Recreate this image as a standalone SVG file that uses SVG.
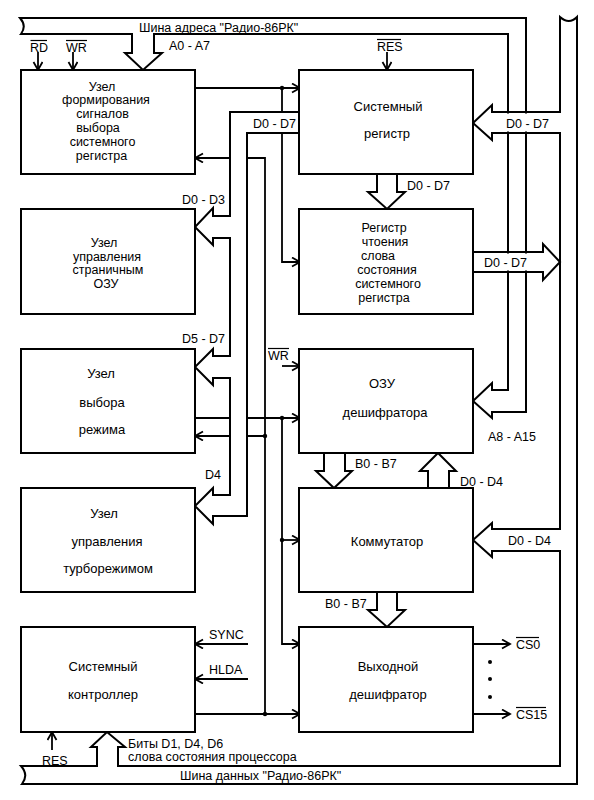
<svg xmlns="http://www.w3.org/2000/svg" width="594" height="800" viewBox="0 0 594 800">
<style>
.blk{fill:#fff;stroke:#000;stroke-width:2}
.w{fill:none;stroke:#000;stroke-width:1.8}
.a{fill:none;stroke:#000;stroke-width:1.8;marker-end:url(#ah)}
.bus{fill:none;stroke:#000;stroke-width:2;stroke-linejoin:miter}
.busw{fill:#fff;stroke:#000;stroke-width:2;stroke-linejoin:miter}
.ov{stroke:#000;stroke-width:1.2}
text{font-family:"Liberation Sans",Arial,sans-serif;fill:#000}
.t{font-size:13px;text-anchor:middle}
.ts{font-size:12.5px;text-anchor:middle}
.l{font-size:12.5px}
</style>
<defs>
<marker id="ah" markerUnits="userSpaceOnUse" markerWidth="12" markerHeight="12" refX="9" refY="5" orient="auto">
<path d="M1,0.5 L9,5 L1,9.5" fill="none" stroke="#000" stroke-width="1.8"/>
</marker>
</defs>
<rect width="594" height="800" fill="#fff"/>

<g id="connectors">
<!-- address bus -->
<path class="bus" d="M20,18 H526 V412 H492 V418 L473,401 L492,383 V390 H508 V34 H154 V53 H162 L143,70 L125,53 H132 V34 H21 Q27,26 20,18 Z"/>
<!-- data bus -->
<path class="bus" d="M560,17 V112 H492 V105 L473,123 L492,140 V133 H560 V529 H492 V523 L473,540 L492,557 V551 H560 V766 H118 V747 H125 L107,732 L91,747 H97 V766 H21 Q29,775 22,784 H577 V17 Q569,25 560,17 Z"/>
<rect x="493" y="113.5" width="66" height="18" fill="#fff"/>
<!-- status register output -->
<polyline class="bus" points="473,252 543,252 543,244 560,262 543,280 543,272 473,272"/>
<rect x="475" y="253.5" width="67" height="17" fill="#fff"/>
<!-- wide inter-block arrows -->
<polyline class="bus" points="377,174 377,192 368,192 387,209 405,192 397,192 397,174"/>
<polyline class="bus" points="324,453 324,471 316,471 334,488 352,471 345,471 345,453"/>
<polyline class="bus" points="428,488 428,471 420,471 438,453 456,471 449,471 449,488"/>
<polyline class="bus" points="377,592 377,610 368,610 387,627 405,610 397,610 397,592"/>

<!-- control wires -->
<line class="a" x1="38" y1="52" x2="38" y2="70"/>
<line class="a" x1="73" y1="52" x2="73" y2="70"/>
<line class="a" x1="387" y1="52" x2="387" y2="70"/>
<line class="a" x1="195" y1="88" x2="300" y2="88"/>
<polyline class="a" points="282,88 282,262 300,262"/>
<polyline class="a" points="265,714 265,158 195,158"/>
<line class="a" x1="282" y1="366" x2="300" y2="366"/>
<line class="a" x1="195" y1="418" x2="300" y2="418"/>
<polyline class="a" points="282,418 282,644 300,644"/>
<line class="a" x1="265" y1="436" x2="195" y2="436"/>
<line class="a" x1="282" y1="540" x2="300" y2="540"/>
<line class="a" x1="248" y1="644" x2="195" y2="644"/>
<line class="a" x1="248" y1="679" x2="195" y2="679"/>
<line class="a" x1="195" y1="714" x2="300" y2="714"/>
<line class="a" x1="473" y1="644" x2="510" y2="644"/>
<line class="a" x1="473" y1="714" x2="510" y2="714"/>
<line class="a" x1="52" y1="750" x2="52" y2="732"/>
<!-- left data bus (white interior) -->
<polygon class="busw" points="300,112 230,112 230,216 213,216 213,208 195,227 213,245 213,238 230,238 230,356 213,356 213,349 195,367 213,385 213,378 230,378 230,495 213,495 213,488 195,506 213,524 213,516 247,516 247,133 300,133"/>
<!-- junction dots -->
<g fill="#000">
<circle cx="282" cy="88" r="2.2"/>
<circle cx="282" cy="418" r="2.2"/>
<circle cx="265" cy="436" r="2.2"/>
<circle cx="282" cy="540" r="2.2"/>
<circle cx="265" cy="714" r="2.2"/>
<circle cx="490" cy="662" r="2"/>
<circle cx="490" cy="679" r="2"/>
<circle cx="490" cy="697" r="2"/>
</g>
</g>

<g id="n1">
<rect class="blk" x="21" y="70" width="174" height="104"/>
<text class="ts" x="102" y="90.5">Узел</text>
<text class="ts" x="106" y="104">формирования</text>
<text class="ts" x="102.5" y="118">сигналов</text>
<text class="ts" x="98" y="132">выбора</text>
<text class="ts" x="102.5" y="145.5">системного</text>
<text class="ts" x="101.5" y="159.5">регистра</text>
</g>
<g id="n2">
<rect class="blk" x="21" y="209" width="174" height="105"/>
<text class="ts" x="104" y="246.5">Узел</text>
<text class="ts" x="107" y="260.5">управления</text>
<text class="ts" x="108" y="274">страничным</text>
<text class="ts" x="106" y="288">ОЗУ</text>
</g>
<g id="n3">
<rect class="blk" x="21" y="349" width="174" height="104"/>
<text class="t" x="101" y="377.5">Узел</text>
<text class="t" x="102" y="406.5">выбора</text>
<text class="t" x="102" y="433.5">режима</text>
</g>
<g id="n4">
<rect class="blk" x="21" y="488" width="174" height="104"/>
<text class="t" x="104" y="517.5">Узел</text>
<text class="t" x="107" y="545.5">управления</text>
<text class="t" x="108" y="572.5">турборежимом</text>
</g>
<g id="n5">
<rect class="blk" x="21" y="627" width="174" height="105"/>
<text class="t" x="103" y="670.5">Системный</text>
<text class="t" x="103" y="698.5">контроллер</text>
</g>
<g id="n6">
<rect class="blk" x="299" y="70" width="174" height="104"/>
<text class="t" x="388" y="110.5">Системный</text>
<text class="t" x="387" y="137.5">регистр</text>
</g>
<g id="n7">
<rect class="blk" x="299" y="209" width="174" height="105"/>
<text class="ts" x="384" y="231.5">Регистр</text>
<text class="ts" x="385" y="246">чтоения</text>
<text class="ts" x="378" y="260">слова</text>
<text class="ts" x="387" y="273.5">состояния</text>
<text class="ts" x="388" y="287.5">системного</text>
<text class="ts" x="384" y="301.5">регистра</text>
</g>
<g id="n8">
<rect class="blk" x="299" y="349" width="174" height="104"/>
<text class="t" x="382" y="387.5">ОЗУ</text>
<text class="t" x="385" y="416.5">дешифратора</text>
</g>
<g id="n9">
<rect class="blk" x="299" y="488" width="174" height="104"/>
<text class="t" x="387" y="545.5">Коммутатор</text>
</g>
<g id="n10">
<rect class="blk" x="299" y="627" width="174" height="105"/>
<text class="t" x="388" y="670.5">Выходной</text>
<text class="t" x="388" y="698.5">дешифратор</text>
</g>

<g id="labels">
<text class="l" x="139" y="31.5">Шина адреса "Радио-86РК"</text>
<text class="l" x="30" y="51.5">RD</text>
<line class="ov" x1="30.5" y1="40.5" x2="47" y2="40.5"/>
<text class="l" x="66" y="51.5">WR</text>
<line class="ov" x1="66" y1="40.5" x2="87" y2="40.5"/>
<text class="l" x="169" y="49.5">A0 - A7</text>
<text class="l" x="377" y="50.5">RES</text>
<line class="ov" x1="377" y1="39.5" x2="401" y2="39.5"/>
<text class="l" x="253" y="127.5">D0 - D7</text>
<text class="l" x="506" y="127.5">D0 - D7</text>
<text class="l" x="407" y="189.5">D0 - D7</text>
<text class="l" x="484" y="266.5">D0 - D7</text>
<text class="l" x="182" y="203.5">D0 - D3</text>
<text class="l" x="182" y="342.5">D5 - D7</text>
<text class="l" x="268" y="359.5">WR</text>
<line class="ov" x1="268" y1="348.5" x2="289" y2="348.5"/>
<text class="l" x="488" y="440.5">A8 - A15</text>
<text class="l" x="205" y="478.5">D4</text>
<text class="l" x="355" y="467.5">B0 - B7</text>
<text class="l" x="460" y="485.5">D0 - D4</text>
<text class="l" x="508" y="544.5">D0 - D4</text>
<text class="l" x="325" y="607.5">B0 - B7</text>
<text class="l" x="209" y="638.5">SYNC</text>
<text class="l" x="209" y="673.5">HLDA</text>
<text class="l" x="516" y="648.5">CS0</text>
<line class="ov" x1="516" y1="637.5" x2="539" y2="637.5"/>
<text class="l" x="516" y="718.5">CS15</text>
<line class="ov" x1="516" y1="707.5" x2="546" y2="707.5"/>
<text class="l" x="42" y="764.5">RES</text>
<text class="l" x="128" y="747.5">Биты D1, D4, D6</text>
<text class="l" x="128" y="760.5">слова состояния процессора</text>
<text class="l" x="180" y="779.5">Шина данных "Радио-86РК"</text>
</g>
</svg>
